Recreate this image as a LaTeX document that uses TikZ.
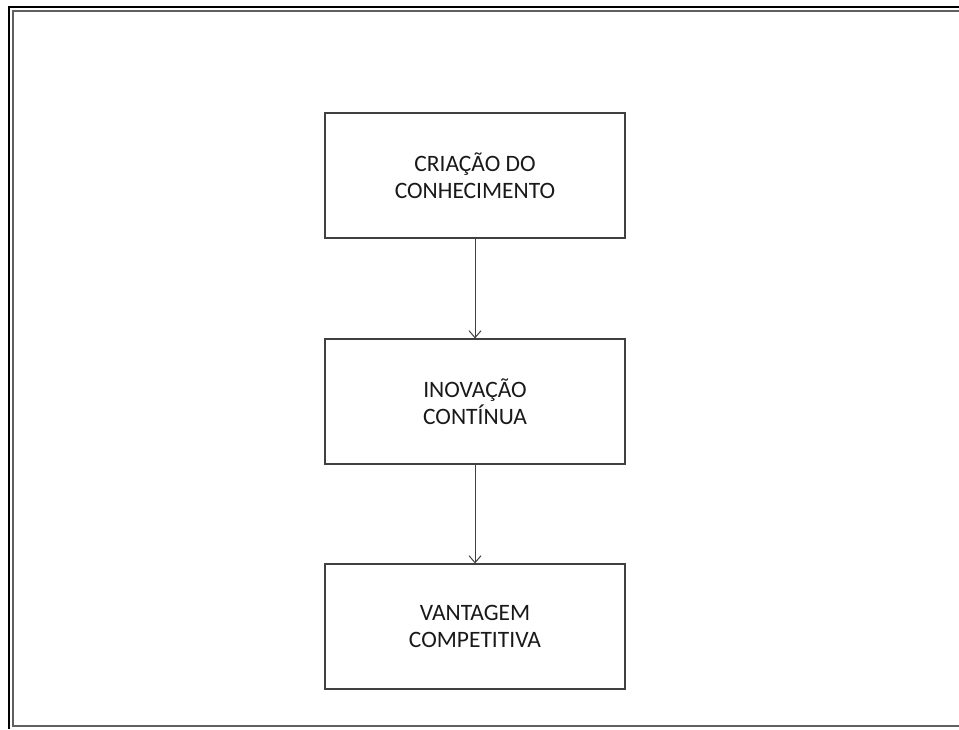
\documentclass[tikz,border=0pt]{standalone}
\usepackage{fontspec}
\setmainfont{Carlito}
\usetikzlibrary{arrows.meta}

\definecolor{linha}{HTML}{404040}
\definecolor{moldura}{HTML}{606060}

\begin{document}
\begin{tikzpicture}[x=1pt,y=-1pt,
    caixa/.style={draw=linha,line width=1.1pt,minimum width=300pt,minimum height=125pt,
      align=center,inner sep=0pt,font=\fontsize{23.5}{27}\selectfont,text=black!90},
    seta/.style={draw=linha,line width=1pt,-{Straight Barb[length=7pt,width=12pt]}}]
  \useasboundingbox (0,0) rectangle (959,729);

  % moldura
  \draw[line width=2pt,black] (9,729) -- (9,7) -- (959,7);
  \draw[line width=2pt,color=moldura] (959,11) -- (13,11) -- (13,726) -- (959,726);

  \node[caixa] (criacao) at (475,175.5) {CRIAÇÃO DO\\CONHECIMENTO};
  \node[caixa] (inovacao) at (475,401.5) {INOVAÇÃO\\CONTÍNUA};
  \node[caixa] (vantagem) at (475,626.5) {VANTAGEM\\COMPETITIVA};

  \draw[seta] (criacao) -- (inovacao);
  \draw[seta] (inovacao) -- (vantagem);

\end{tikzpicture}
\end{document}
